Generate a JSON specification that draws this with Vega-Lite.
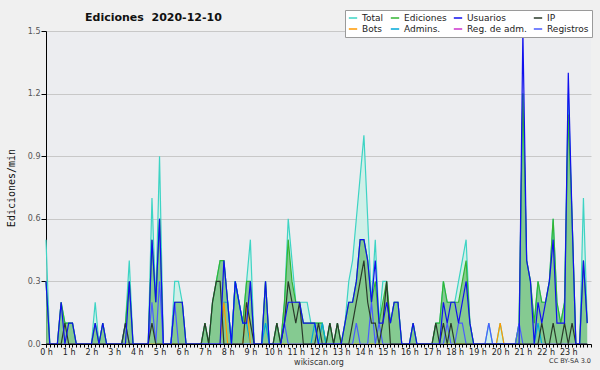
{
  "$schema": "https://vega.github.io/schema/vega-lite/v6.json",
  "width": 545,
  "height": 313,
  "autosize": {"type": "none"},
  "padding": {"left": 46, "top": 31, "right": 9, "bottom": 26},
  "background": "#f0f0f0",
  "config": {"view": {"fill": "#ecedf0", "stroke": null}, "font": "DejaVu Sans"},
  "title": {"text": "Ediciones\u00a0 2020-12-10", "anchor": "start", "frame": "group", "dx": 39, "dy": 13, "font": "DejaVu Sans", "fontSize": 11, "fontWeight": "bold", "color": "#111111", "offset": 0},
  "resolve": {"axis": {"x": "independent"}},
  "data": {"values": [
    {"i":0,"tot":0.5,"ed":0.3,"us":0.3,"ip":0,"reg":0,"bot":0,"adm":0},
    {"i":1,"tot":0,"ed":0,"us":0,"ip":0,"reg":0,"bot":0,"adm":0},
    {"i":2,"tot":0,"ed":0,"us":0,"ip":0,"reg":0,"bot":0,"adm":0},
    {"i":3,"tot":0,"ed":0,"us":0,"ip":0,"reg":0,"bot":0,"adm":0},
    {"i":4,"tot":0.2,"ed":0.2,"us":0.2,"ip":0,"reg":0,"bot":0,"adm":0},
    {"i":5,"tot":0.1,"ed":0.1,"us":0,"ip":0.1,"reg":0,"bot":0,"adm":0},
    {"i":6,"tot":0.1,"ed":0.1,"us":0.1,"ip":0,"reg":0,"bot":0,"adm":0},
    {"i":7,"tot":0.1,"ed":0.1,"us":0.1,"ip":0,"reg":0,"bot":0,"adm":0},
    {"i":8,"tot":0,"ed":0,"us":0,"ip":0,"reg":0,"bot":0,"adm":0},
    {"i":9,"tot":0,"ed":0,"us":0,"ip":0,"reg":0,"bot":0,"adm":0},
    {"i":10,"tot":0,"ed":0,"us":0,"ip":0,"reg":0,"bot":0,"adm":0},
    {"i":11,"tot":0,"ed":0,"us":0,"ip":0,"reg":0,"bot":0,"adm":0},
    {"i":12,"tot":0,"ed":0,"us":0,"ip":0,"reg":0,"bot":0,"adm":0},
    {"i":13,"tot":0.2,"ed":0.1,"us":0.1,"ip":0,"reg":0,"bot":0,"adm":0},
    {"i":14,"tot":0,"ed":0,"us":0,"ip":0,"reg":0,"bot":0,"adm":0},
    {"i":15,"tot":0.1,"ed":0.1,"us":0.1,"ip":0,"reg":0,"bot":0,"adm":0},
    {"i":16,"tot":0,"ed":0,"us":0,"ip":0,"reg":0,"bot":0,"adm":0},
    {"i":17,"tot":0,"ed":0,"us":0,"ip":0,"reg":0,"bot":0,"adm":0},
    {"i":18,"tot":0,"ed":0,"us":0,"ip":0,"reg":0,"bot":0,"adm":0},
    {"i":19,"tot":0,"ed":0,"us":0,"ip":0,"reg":0,"bot":0,"adm":0},
    {"i":20,"tot":0,"ed":0,"us":0,"ip":0,"reg":0,"bot":0,"adm":0},
    {"i":21,"tot":0.1,"ed":0.1,"us":0,"ip":0.1,"reg":0.1,"bot":0,"adm":0},
    {"i":22,"tot":0.4,"ed":0.3,"us":0.3,"ip":0,"reg":0,"bot":0,"adm":0},
    {"i":23,"tot":0,"ed":0,"us":0,"ip":0,"reg":0,"bot":0,"adm":0},
    {"i":24,"tot":0,"ed":0,"us":0,"ip":0,"reg":0,"bot":0,"adm":0},
    {"i":25,"tot":0,"ed":0,"us":0,"ip":0,"reg":0,"bot":0,"adm":0},
    {"i":26,"tot":0,"ed":0,"us":0,"ip":0,"reg":0,"bot":0,"adm":0},
    {"i":27,"tot":0,"ed":0,"us":0,"ip":0,"reg":0,"bot":0,"adm":0},
    {"i":28,"tot":0.7,"ed":0.5,"us":0.5,"ip":0.1,"reg":0.2,"bot":0,"adm":0},
    {"i":29,"tot":0.2,"ed":0.2,"us":0.2,"ip":0,"reg":0,"bot":0,"adm":0},
    {"i":30,"tot":0.9,"ed":0.6,"us":0.6,"ip":0,"reg":0.3,"bot":0,"adm":0},
    {"i":31,"tot":0,"ed":0,"us":0,"ip":0,"reg":0,"bot":0,"adm":0},
    {"i":32,"tot":0,"ed":0,"us":0,"ip":0,"reg":0,"bot":0,"adm":0},
    {"i":33,"tot":0,"ed":0,"us":0,"ip":0,"reg":0,"bot":0,"adm":0},
    {"i":34,"tot":0.3,"ed":0.2,"us":0.2,"ip":0,"reg":0.2,"bot":0,"adm":0},
    {"i":35,"tot":0.3,"ed":0.2,"us":0.2,"ip":0,"reg":0,"bot":0,"adm":0},
    {"i":36,"tot":0.2,"ed":0.2,"us":0.2,"ip":0,"reg":0,"bot":0,"adm":0},
    {"i":37,"tot":0,"ed":0,"us":0,"ip":0,"reg":0,"bot":0,"adm":0},
    {"i":38,"tot":0,"ed":0,"us":0,"ip":0,"reg":0,"bot":0,"adm":0},
    {"i":39,"tot":0,"ed":0,"us":0,"ip":0,"reg":0,"bot":0,"adm":0},
    {"i":40,"tot":0,"ed":0,"us":0,"ip":0,"reg":0,"bot":0,"adm":0},
    {"i":41,"tot":0,"ed":0,"us":0,"ip":0,"reg":0,"bot":0,"adm":0},
    {"i":42,"tot":0.1,"ed":0.1,"us":0,"ip":0.1,"reg":0,"bot":0,"adm":0},
    {"i":43,"tot":0,"ed":0,"us":0,"ip":0,"reg":0,"bot":0,"adm":0},
    {"i":44,"tot":0.2,"ed":0.2,"us":0,"ip":0.2,"reg":0,"bot":0,"adm":0},
    {"i":45,"tot":0.3,"ed":0.3,"us":0,"ip":0.3,"reg":0,"bot":0,"adm":0},
    {"i":46,"tot":0.4,"ed":0.4,"us":0,"ip":0.3,"reg":0,"bot":0,"adm":0},
    {"i":47,"tot":0.4,"ed":0.4,"us":0.4,"ip":0,"reg":0,"bot":0.2,"adm":0.2},
    {"i":48,"tot":0.2,"ed":0.2,"us":0.2,"ip":0,"reg":0,"bot":0,"adm":0.2},
    {"i":49,"tot":0,"ed":0,"us":0,"ip":0,"reg":0,"bot":0,"adm":0},
    {"i":50,"tot":0.3,"ed":0.3,"us":0.3,"ip":0,"reg":0,"bot":0,"adm":0.3},
    {"i":51,"tot":0.2,"ed":0.2,"us":0.2,"ip":0,"reg":0,"bot":0,"adm":0.2},
    {"i":52,"tot":0.1,"ed":0.1,"us":0.1,"ip":0,"reg":0,"bot":0,"adm":0.1},
    {"i":53,"tot":0.3,"ed":0.3,"us":0.1,"ip":0.2,"reg":0,"bot":0.2,"adm":0.1},
    {"i":54,"tot":0.5,"ed":0.3,"us":0.3,"ip":0.1,"reg":0,"bot":0,"adm":0},
    {"i":55,"tot":0,"ed":0,"us":0,"ip":0,"reg":0,"bot":0,"adm":0},
    {"i":56,"tot":0,"ed":0,"us":0,"ip":0,"reg":0,"bot":0,"adm":0},
    {"i":57,"tot":0,"ed":0,"us":0,"ip":0,"reg":0,"bot":0,"adm":0},
    {"i":58,"tot":0.3,"ed":0.3,"us":0.3,"ip":0,"reg":0,"bot":0,"adm":0.1},
    {"i":59,"tot":0,"ed":0,"us":0,"ip":0,"reg":0,"bot":0,"adm":0},
    {"i":60,"tot":0,"ed":0,"us":0,"ip":0,"reg":0,"bot":0,"adm":0},
    {"i":61,"tot":0.1,"ed":0.1,"us":0,"ip":0.1,"reg":0,"bot":0,"adm":0},
    {"i":62,"tot":0,"ed":0,"us":0,"ip":0,"reg":0,"bot":0,"adm":0},
    {"i":63,"tot":0.2,"ed":0.2,"us":0.1,"ip":0.1,"reg":0.1,"bot":0,"adm":0},
    {"i":64,"tot":0.6,"ed":0.5,"us":0.2,"ip":0.3,"reg":0,"bot":0,"adm":0},
    {"i":65,"tot":0.4,"ed":0.3,"us":0.2,"ip":0.2,"reg":0,"bot":0,"adm":0},
    {"i":66,"tot":0.2,"ed":0.2,"us":0.2,"ip":0.1,"reg":0,"bot":0,"adm":0},
    {"i":67,"tot":0.2,"ed":0.2,"us":0.2,"ip":0.2,"reg":0,"bot":0,"adm":0},
    {"i":68,"tot":0.2,"ed":0.1,"us":0.1,"ip":0,"reg":0,"bot":0,"adm":0},
    {"i":69,"tot":0.2,"ed":0.1,"us":0.1,"ip":0,"reg":0,"bot":0,"adm":0},
    {"i":70,"tot":0.1,"ed":0.1,"us":0.1,"ip":0,"reg":0,"bot":0,"adm":0},
    {"i":71,"tot":0.1,"ed":0.1,"us":0.1,"ip":0,"reg":0,"bot":0,"adm":0.1},
    {"i":72,"tot":0.1,"ed":0.1,"us":0,"ip":0.1,"reg":0,"bot":0,"adm":0},
    {"i":73,"tot":0.1,"ed":0.1,"us":0,"ip":0,"reg":0,"bot":0,"adm":0.1},
    {"i":74,"tot":0,"ed":0,"us":0,"ip":0,"reg":0,"bot":0,"adm":0},
    {"i":75,"tot":0.1,"ed":0.1,"us":0,"ip":0.1,"reg":0,"bot":0,"adm":0},
    {"i":76,"tot":0,"ed":0,"us":0,"ip":0,"reg":0,"bot":0,"adm":0},
    {"i":77,"tot":0.1,"ed":0.1,"us":0,"ip":0.1,"reg":0,"bot":0,"adm":0},
    {"i":78,"tot":0,"ed":0,"us":0,"ip":0,"reg":0,"bot":0,"adm":0},
    {"i":79,"tot":0.1,"ed":0.1,"us":0.1,"ip":0,"reg":0,"bot":0,"adm":0},
    {"i":80,"tot":0.3,"ed":0.2,"us":0.2,"ip":0,"reg":0,"bot":0,"adm":0},
    {"i":81,"tot":0.4,"ed":0.2,"us":0.2,"ip":0.1,"reg":0,"bot":0,"adm":0},
    {"i":82,"tot":0.6,"ed":0.3,"us":0.3,"ip":0.2,"reg":0.1,"bot":0,"adm":0},
    {"i":83,"tot":0.8,"ed":0.5,"us":0.5,"ip":0.3,"reg":0,"bot":0,"adm":0},
    {"i":84,"tot":1.0,"ed":0.5,"us":0.5,"ip":0.4,"reg":0,"bot":0,"adm":0},
    {"i":85,"tot":0.6,"ed":0.4,"us":0.4,"ip":0.2,"reg":0,"bot":0,"adm":0},
    {"i":86,"tot":0.2,"ed":0.2,"us":0.2,"ip":0.1,"reg":0.2,"bot":0,"adm":0},
    {"i":87,"tot":0.5,"ed":0.3,"us":0.4,"ip":0.1,"reg":0,"bot":0,"adm":0},
    {"i":88,"tot":0.1,"ed":0.1,"us":0.1,"ip":0,"reg":0.1,"bot":0,"adm":0},
    {"i":89,"tot":0.3,"ed":0.2,"us":0.1,"ip":0.1,"reg":0,"bot":0,"adm":0},
    {"i":90,"tot":0.3,"ed":0.3,"us":0.2,"ip":0.3,"reg":0,"bot":0,"adm":0},
    {"i":91,"tot":0.1,"ed":0.1,"us":0.1,"ip":0,"reg":0,"bot":0,"adm":0},
    {"i":92,"tot":0.2,"ed":0.2,"us":0.2,"ip":0,"reg":0,"bot":0,"adm":0},
    {"i":93,"tot":0.2,"ed":0.2,"us":0.2,"ip":0,"reg":0,"bot":0,"adm":0},
    {"i":94,"tot":0,"ed":0,"us":0,"ip":0,"reg":0,"bot":0,"adm":0},
    {"i":95,"tot":0,"ed":0,"us":0,"ip":0,"reg":0,"bot":0,"adm":0},
    {"i":96,"tot":0,"ed":0,"us":0,"ip":0,"reg":0,"bot":0,"adm":0},
    {"i":97,"tot":0.1,"ed":0.1,"us":0.1,"ip":0,"reg":0,"bot":0,"adm":0},
    {"i":98,"tot":0,"ed":0,"us":0,"ip":0,"reg":0,"bot":0,"adm":0},
    {"i":99,"tot":0,"ed":0,"us":0,"ip":0,"reg":0,"bot":0,"adm":0},
    {"i":100,"tot":0,"ed":0,"us":0,"ip":0,"reg":0,"bot":0,"adm":0},
    {"i":101,"tot":0,"ed":0,"us":0,"ip":0,"reg":0,"bot":0,"adm":0},
    {"i":102,"tot":0,"ed":0,"us":0,"ip":0,"reg":0,"bot":0,"adm":0},
    {"i":103,"tot":0.1,"ed":0.1,"us":0,"ip":0.1,"reg":0,"bot":0,"adm":0},
    {"i":104,"tot":0.1,"ed":0.1,"us":0,"ip":0,"reg":0,"bot":0,"adm":0},
    {"i":105,"tot":0.3,"ed":0.3,"us":0.2,"ip":0.1,"reg":0,"bot":0,"adm":0},
    {"i":106,"tot":0.2,"ed":0.2,"us":0.1,"ip":0,"reg":0.1,"bot":0,"adm":0},
    {"i":107,"tot":0.2,"ed":0.2,"us":0.2,"ip":0.1,"reg":0,"bot":0,"adm":0},
    {"i":108,"tot":0.2,"ed":0.2,"us":0.2,"ip":0,"reg":0,"bot":0,"adm":0},
    {"i":109,"tot":0.3,"ed":0.2,"us":0.1,"ip":0,"reg":0.1,"bot":0,"adm":0},
    {"i":110,"tot":0.4,"ed":0.3,"us":0.2,"ip":0,"reg":0.1,"bot":0,"adm":0},
    {"i":111,"tot":0.5,"ed":0.4,"us":0.3,"ip":0,"reg":0,"bot":0,"adm":0},
    {"i":112,"tot":0.1,"ed":0.1,"us":0.1,"ip":0,"reg":0,"bot":0,"adm":0},
    {"i":113,"tot":0,"ed":0,"us":0,"ip":0,"reg":0,"bot":0,"adm":0},
    {"i":114,"tot":0,"ed":0,"us":0,"ip":0,"reg":0,"bot":0,"adm":0},
    {"i":115,"tot":0,"ed":0,"us":0,"ip":0,"reg":0,"bot":0,"adm":0},
    {"i":116,"tot":0,"ed":0,"us":0,"ip":0,"reg":0,"bot":0,"adm":0},
    {"i":117,"tot":0.1,"ed":0,"us":0,"ip":0,"reg":0.1,"bot":0,"adm":0},
    {"i":118,"tot":0,"ed":0,"us":0,"ip":0,"reg":0,"bot":0,"adm":0},
    {"i":119,"tot":0,"ed":0,"us":0,"ip":0,"reg":0,"bot":0,"adm":0},
    {"i":120,"tot":0.1,"ed":0,"us":0,"ip":0,"reg":0,"bot":0.1,"adm":0},
    {"i":121,"tot":0,"ed":0,"us":0,"ip":0,"reg":0,"bot":0,"adm":0},
    {"i":122,"tot":0,"ed":0,"us":0,"ip":0,"reg":0,"bot":0,"adm":0},
    {"i":123,"tot":0,"ed":0,"us":0,"ip":0,"reg":0,"bot":0,"adm":0},
    {"i":124,"tot":0,"ed":0,"us":0,"ip":0,"reg":0,"bot":0,"adm":0},
    {"i":125,"tot":0.1,"ed":0.1,"us":0,"ip":0,"reg":0.1,"bot":0,"adm":0},
    {"i":126,"tot":1.2,"ed":1.2,"us":1.5,"ip":0,"reg":0,"bot":0,"adm":0},
    {"i":127,"tot":0.4,"ed":0.4,"us":0.4,"ip":0,"reg":0,"bot":0,"adm":0},
    {"i":128,"tot":0.3,"ed":0.3,"us":0.3,"ip":0,"reg":0,"bot":0,"adm":0},
    {"i":129,"tot":0.1,"ed":0.1,"us":0,"ip":0,"reg":0,"bot":0,"adm":0},
    {"i":130,"tot":0.3,"ed":0.3,"us":0.2,"ip":0,"reg":0,"bot":0,"adm":0.1},
    {"i":131,"tot":0.2,"ed":0.2,"us":0.1,"ip":0.1,"reg":0,"bot":0,"adm":0},
    {"i":132,"tot":0.2,"ed":0.2,"us":0.2,"ip":0,"reg":0,"bot":0,"adm":0},
    {"i":133,"tot":0.3,"ed":0.3,"us":0.3,"ip":0,"reg":0,"bot":0,"adm":0},
    {"i":134,"tot":0.6,"ed":0.6,"us":0.5,"ip":0.1,"reg":0,"bot":0,"adm":0},
    {"i":135,"tot":0.2,"ed":0.2,"us":0.1,"ip":0,"reg":0,"bot":0,"adm":0},
    {"i":136,"tot":0.1,"ed":0.1,"us":0.1,"ip":0,"reg":0,"bot":0,"adm":0},
    {"i":137,"tot":0.2,"ed":0.2,"us":0.1,"ip":0.1,"reg":0,"bot":0,"adm":0},
    {"i":138,"tot":1.2,"ed":1.1,"us":1.3,"ip":0,"reg":0,"bot":0,"adm":0},
    {"i":139,"tot":0.6,"ed":0.6,"us":0.6,"ip":0.1,"reg":0,"bot":0,"adm":0},
    {"i":140,"tot":0,"ed":0,"us":0,"ip":0,"reg":0,"bot":0,"adm":0},
    {"i":141,"tot":0,"ed":0,"us":0,"ip":0,"reg":0,"bot":0,"adm":0},
    {"i":142,"tot":0.7,"ed":0.4,"us":0.4,"ip":0,"reg":0,"bot":0,"adm":0},
    {"i":143,"tot":0.1,"ed":0.1,"us":0.1,"ip":0,"reg":0,"bot":0,"adm":0}
  ]},
  "layer": [
    {
      "transform": [{"fold": ["tot"], "as": ["key", "v"]}],
      "mark": {"type": "area", "color": "#c9efe6", "opacity": 0.8},
      "encoding": {
        "x": {"field": "i", "type": "quantitative", "scale": {"domain": [0, 144], "nice": false, "zero": false},
          "axis": {"orient": "bottom", "values": [0,6,12,18,24,30,36,42,48,54,60,66,72,78,84,90,96,102,108,114,120,126,132,138],
            "labelExpr": "(datum.value / 6) + ' h'",
            "labelOverlap": false, "labelFlush": false, "labelBound": false, "labelAngle": 0, "tickSize": 3, "tickColor": "#000000", "domainColor": "#000000",
            "labelFont": "DejaVu Sans", "labelFontSize": 8, "labelColor": "#222222", "labelPadding": 1, "grid": false,
            "title": "wikiscan.org", "titleFont": "DejaVu Sans", "titleFontSize": 8, "titleFontWeight": "normal", "titleColor": "#333333", "titlePadding": 2, "zindex": 1}},
        "y": {"field": "v", "type": "quantitative", "scale": {"domain": [0, 1.5], "nice": false},
          "axis": {"values": [0,0.075,0.15,0.225,0.3,0.375,0.45,0.525,0.6,0.675,0.75,0.825,0.9,0.975,1.05,1.125,1.2,1.275,1.35,1.425,1.5],
            "labelExpr": "abs(datum.value*10/3 - round(datum.value*10/3)) < 0.001 ? format(datum.value, '.1f') : ''",
            "labelOverlap": false, "labelFlush": false, "grid": true, "gridColor": "#c8c8c8",
            "gridOpacity": {"condition": {"test": "abs(datum.value*10/3 - round(datum.value*10/3)) < 0.001 && datum.value > 0", "value": 1}, "value": 0},
            "tickSize": 5, "tickColor": "#000000", "domainColor": "#000000",
            "labelFont": "DejaVu Sans", "labelFontSize": 8, "labelColor": "#555555", "labelPadding": 1,
            "title": "Ediciones/min", "titleFont": "DejaVu Sans Mono", "titleFontSize": 10, "titleFontWeight": "normal", "titleColor": "#111111", "titlePadding": 11}}
      }
    },
    {
      "transform": [{"fold": ["ed"], "as": ["key", "v"]}],
      "mark": {"type": "area", "color": "#3aa63a", "opacity": 0.5},
      "encoding": {
        "x": {"field": "i", "type": "quantitative",
          "axis": {"orient": "bottom", "values": [0,1,2,3,4,5,6,7,8,9,10,11,12,13,14,15,16,17,18,19,20,21,22,23,24,25,26,27,28,29,30,31,32,33,34,35,36,37,38,39,40,41,42,43,44,45,46,47,48,49,50,51,52,53,54,55,56,57,58,59,60,61,62,63,64,65,66,67,68,69,70,71,72,73,74,75,76,77,78,79,80,81,82,83,84,85,86,87,88,89,90,91,92,93,94,95,96,97,98,99,100,101,102,103,104,105,106,107,108,109,110,111,112,113,114,115,116,117,118,119,120,121,122,123,124,125,126,127,128,129,130,131,132,133,134,135,136,137,138,139,140,141,142,143,144],
            "labels": false, "domain": false, "grid": false, "title": null, "tickSize": 3, "tickColor": "#000000", "zindex": 1}},
        "y": {"field": "v", "type": "quantitative"}
      }
    },
    {
      "transform": [{"fold": ["tot", "ed", "adm", "bot", "reg", "ip", "us"], "as": ["key", "v"]}],
      "mark": {"type": "line", "strokeWidth": 1.2},
      "encoding": {
        "x": {"field": "i", "type": "quantitative", "axis": null},
        "y": {"field": "v", "type": "quantitative"},
        "color": {"field": "key", "type": "nominal",
          "scale": {"domain": ["tot", "ed", "us", "ip", "bot", "adm", "rga", "reg"],
                    "range": ["#3dd4c4", "#33b533", "#1010ee", "#2a3a2a", "#ff9900", "#00a8d8", "#cc33cc", "#4a5cff"]},
          "legend": {"orient": "none", "legendX": 299, "legendY": -21, "columns": 4, "direction": "horizontal",
            "title": null, "symbolType": "stroke", "symbolSize": 70, "symbolStrokeWidth": 1.5,
            "labelFont": "DejaVu Sans", "labelFontSize": 9, "labelColor": "#222222", "labelOffset": 4,
            "fillColor": "#ffffff", "strokeColor": "#9a9a9a", "padding": 3, "rowPadding": 1, "columnPadding": 3,
            "labelExpr": "{'tot':'Total','ed':'Ediciones','us':'Usuarios','ip':'IP','bot':'Bots','adm':'Admins.','rga':'Reg. de adm.','reg':'Registros'}[datum.label]"}}
      }
    },
    {
      "data": {"values": [{"t": "CC BY-SA 3.0"}]},
      "mark": {"type": "text", "align": "right", "baseline": "middle", "dy": 17, "fontSize": 6.5, "font": "DejaVu Sans", "color": "#333333"},
      "encoding": {
        "x": {"datum": 144, "type": "quantitative", "axis": null},
        "y": {"datum": 0, "type": "quantitative"},
        "text": {"field": "t", "type": "nominal"}
      }
    }
  ]
}
